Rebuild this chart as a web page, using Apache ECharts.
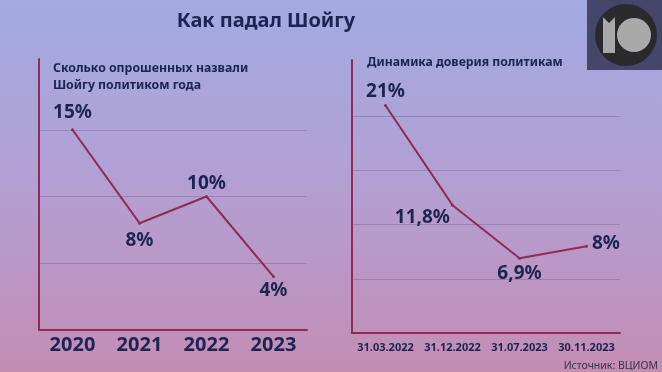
<!DOCTYPE html>
<html><head><meta charset="utf-8">
<script src="https://cdn.jsdelivr.net/npm/echarts@6/dist/echarts.min.js"></script>
<style>html,body{margin:0;padding:0;}#c{width:662px;height:372px;}</style>
</head><body><div id="c"></div>
<script>
const years = ['2020', '2021', '2022', '2023'];
const politicianOfYear = [15, 8, 10, 4];
const dates = ['31.03.2022', '31.12.2022', '31.07.2023', '30.11.2023'];
const trust = [21, 11.8, 6.9, 8];

const NAVY = '#1c2452';
const LINE = '#8e2b57';
const GRID = 'rgba(110,80,140,0.35)';
const FONT = '"Noto Sans", sans-serif';

const fmt = v => String(v).replace('.', ',') + '%';

const leftLabelCfg = [
  {position: 'top', distance: 6},
  {position: 'bottom', distance: 6},
  {position: 'top', distance: 2},
  {position: 'bottom', distance: 3}
];
const rightLabelCfg = [
  {position: 'top', distance: 3},
  {position: 'left', distance: 1, offset: [0, 12]},
  {position: 'bottom', distance: 4},
  {position: 'right', distance: 4, offset: [0, -3]}
];

const labelBase = {show: true, color: NAVY, fontFamily: FONT, fontWeight: 'bold', fontSize: 19,
  formatter: p => fmt(p.value)};

function mkData(vals, cfg) {
  return vals.map((v, i) => ({value: v, label: Object.assign({}, labelBase, cfg[i])}));
}

const chart = echarts.init(document.getElementById('c'));
chart.setOption({
  backgroundColor: new echarts.graphic.LinearGradient(0, 0, 0, 1, [
    {offset: 0, color: '#a2abe2'},
    {offset: 0.5, color: '#b39fd2'},
    {offset: 1, color: '#c38db4'}
  ]),
  title: [
    {text: 'Как падал Шойгу', left: 261, top: 6, textAlign: 'center',
      textStyle: {color: NAVY, fontFamily: FONT, fontWeight: 'bold', fontSize: 20}},
    {text: 'Сколько опрошенных назвали\nШойгу политиком года', left: 48, top: 55,
      textStyle: {color: NAVY, fontFamily: FONT, fontWeight: 'bold', fontSize: 12.3, lineHeight: 17}},
    {text: 'Динамика доверия политикам', left: 362, top: 52,
      textStyle: {color: NAVY, fontFamily: FONT, fontWeight: 'bold', fontSize: 12.2}},
    {text: 'Источник: ВЦИОМ', right: -1, top: 356,
      textStyle: {color: '#34344a', fontFamily: FONT, fontWeight: 'normal', fontSize: 10.5}}
  ],
  grid: [
    {left: 39, top: 59, width: 268, bottom: 42},
    {left: 352, top: 60, width: 268, bottom: 39}
  ],
  xAxis: [
    {type: 'category', gridIndex: 0, data: years, boundaryGap: true,
      axisLine: {lineStyle: {color: LINE, width: 2}}, axisTick: {show: false},
      axisLabel: {interval: 0, color: NAVY, fontFamily: FONT, fontWeight: 'bold', fontSize: 20, margin: 5}},
    {type: 'category', gridIndex: 1, data: dates, boundaryGap: true,
      axisLine: {lineStyle: {color: LINE, width: 2}}, axisTick: {show: false},
      axisLabel: {interval: 0, color: NAVY, fontFamily: FONT, fontWeight: 'bold', fontSize: 11, margin: 9}}
  ],
  yAxis: [
    {type: 'value', gridIndex: 0, min: 0, max: 20.3, interval: 5,
      axisLine: {show: true, lineStyle: {color: LINE, width: 2}}, axisTick: {show: false},
      axisLabel: {show: false},
      splitLine: {show: true, lineStyle: {color: ['transparent', GRID, GRID, GRID, 'transparent', 'transparent'], width: 1}}},
    {type: 'value', gridIndex: 1, min: 0, max: 25.2, interval: 5,
      axisLine: {show: true, lineStyle: {color: LINE, width: 2}}, axisTick: {show: false},
      axisLabel: {show: false},
      splitLine: {show: true, lineStyle: {color: ['transparent', GRID, GRID, GRID, GRID, 'transparent', 'transparent'], width: 1}}}
  ],
  series: [
    {type: 'line', xAxisIndex: 0, yAxisIndex: 0, data: mkData(politicianOfYear, leftLabelCfg),
      symbol: 'circle', symbolSize: 3, itemStyle: {color: LINE},
      lineStyle: {color: LINE, width: 2}, animation: false},
    {type: 'line', xAxisIndex: 1, yAxisIndex: 1, data: mkData(trust, rightLabelCfg),
      symbol: 'circle', symbolSize: 3, itemStyle: {color: LINE},
      lineStyle: {color: LINE, width: 2}, animation: false}
  ],
  graphic: [
    {type: 'rect', shape: {x: 587, y: 0, width: 75, height: 70}, style: {fill: '#44466a'}, silent: true},
    {type: 'circle', shape: {cx: 626, cy: 35, r: 31}, style: {fill: '#2a2a2e'}, silent: true},
    {type: 'polygon', shape: {points: [[603, 17], [609, 23], [615, 17], [615, 53], [603, 53]]}, style: {fill: '#a9a9a9'}, silent: true},
    {type: 'circle', shape: {cx: 634, cy: 35, r: 17}, style: {fill: '#a9a9a9'}, silent: true}
  ]
});
</script></body></html>
